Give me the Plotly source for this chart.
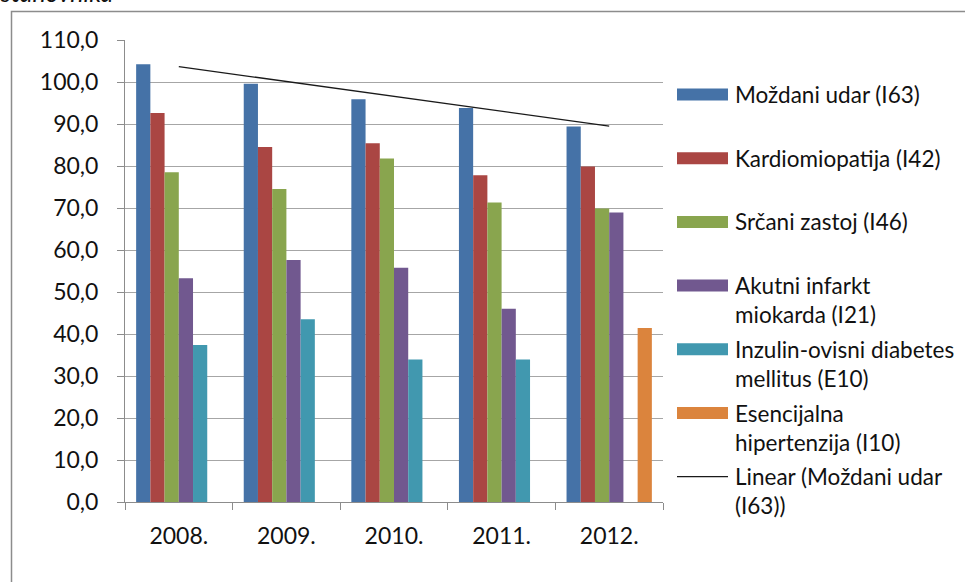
import numpy as np
import plotly.graph_objects as go

# ---- data ----
years = ["2008.", "2009.", "2010.", "2011.", "2012."]
series_names = [
    "Moždani udar (I63)",
    "Kardiomiopatija (I42)",
    "Srčani zastoj (I46)",
    "Akutni infarkt miokarda (I21)",
    "Inzulin-ovisni diabetes mellitus (E10)",
    "Esencijalna hipertenzija (I10)",
]
legend_labels = [
    "Moždani udar (I63)",
    "Kardiomiopatija (I42)",
    "Srčani zastoj (I46)",
    "Akutni infarkt<br>miokarda (I21)",
    "Inzulin-ovisni diabetes<br>mellitus (E10)",
    "Esencijalna<br>hipertenzija (I10)",
    "Linear (Moždani udar<br>(I63))",
]
mozdani_udar = [104.2, 99.6, 95.9, 93.8, 89.4]
kardiomiopatija = [92.6, 84.5, 85.4, 77.8, 79.9]
srcani_zastoj = [78.5, 74.5, 81.8, 71.3, 69.9]
akutni_infarkt = [53.3, 57.6, 55.8, 46.0, 68.9]
inzulin_diabetes = [37.4, 43.5, 33.9, 33.9, None]
esencijalna_hipertenzija = [None, None, None, None, 41.4]
trend_name = "Linear (Moždani udar (I63))"
ytick_vals = [0, 10, 20, 30, 40, 50, 60, 70, 80, 90, 100, 110]
ytick_text = [f"{v:.1f}".replace(".", ",") for v in ytick_vals]

colors = ["#4572A7", "#AA4643", "#89A54E", "#71588F", "#4198AF", "#DB843D"]
all_series = [mozdani_udar, kardiomiopatija, srcani_zastoj, akutni_infarkt,
              inzulin_diabetes, esencijalna_hipertenzija]

# ---- geometry (pixels) ----
W, H = 965, 582
L, R, T, B = 125, 965 - 663, 40, 582 - 502
PW, PH = W - L - R, H - T - B


def px(x):
    return (x - L) / PW


def py(y):
    return (H - B - y) / PH


FONT = "Lato"
TICK_SIZE = 23
LEG_SIZE = 22.5
fig = go.Figure()
for name, vals, col in zip(series_names, all_series, colors):
    fig.add_trace(go.Bar(x=years, y=vals, name=name, marker_color=col,
                         marker_line_width=0, showlegend=False))

# linear trendline of Moždani udar
idx = np.arange(len(years))
slope, intercept = np.polyfit(idx, np.array(mozdani_udar), 1)
trend = list(slope * idx + intercept)
fig.add_trace(go.Scatter(x=years, y=trend, mode="lines", name=trend_name,
                         line=dict(color="#1a1a1a", width=1.3), showlegend=False))

fig.update_layout(
    width=W, height=H,
    margin=dict(l=L, r=R, t=T, b=B, pad=0),
    paper_bgcolor="white", plot_bgcolor="white",
    barmode="group", bargap=0.207, bargroupgap=0,
    font=dict(family=FONT, size=20, color="#111111"),
    showlegend=False,
)
fig.update_yaxes(
    range=[0, 110], tickvals=ytick_vals, ticktext=ytick_text,
    showgrid=True, gridcolor="#A6A6A6", gridwidth=1,
    showline=True, linecolor="#8C8C8C", linewidth=1,
    ticks="outside", ticklen=7, tickcolor="#8C8C8C",
    ticklabelstandoff=14, zeroline=False,
    tickfont=dict(family=FONT, size=TICK_SIZE, color="#111111"),
)
fig.update_xaxes(
    type="category", showgrid=False,
    showline=True, linecolor="#8C8C8C", linewidth=1,
    ticks="outside", ticklen=7, tickcolor="#8C8C8C", tickson="boundaries",
    ticklabelstandoff=13,
    tickfont=dict(family=FONT, size=TICK_SIZE, color="#111111"),
)

shapes = []
annotations = []
# outer frame
shapes.append(dict(type="rect", xref="paper", yref="paper",
                   x0=px(11.5), x1=px(970), y0=py(590), y1=py(11.5),
                   line=dict(color="#8C8C8C", width=1.5), fillcolor="rgba(0,0,0,0)",
                   layer="below"))

# custom legend
sw_x0, sw_x1 = 677, 728
text_x = 733
for k, label in enumerate(legend_labels):
    cy = 94.5 + 63.7 * k
    if k < len(colors):
        shapes.append(dict(type="rect", xref="paper", yref="paper",
                           x0=px(sw_x0), x1=px(sw_x1), y0=py(cy + 6), y1=py(cy - 6),
                           line=dict(width=0), fillcolor=colors[k]))
    else:
        shapes.append(dict(type="line", xref="paper", yref="paper",
                           x0=px(sw_x0), x1=px(sw_x1), y0=py(cy), y1=py(cy),
                           line=dict(color="#1a1a1a", width=1.3)))
    for j, line in enumerate(label.split("<br>")):
        annotations.append(dict(xref="paper", yref="paper", x=px(text_x),
                                y=py(cy + 29 * j), text=line, showarrow=False,
                                xanchor="left", yanchor="middle",
                                font=dict(family=FONT, size=LEG_SIZE, color="#111111")))

# cropped caption at top-left (cut off by the page edge, as in the original)
annotations.append(dict(xref="paper", yref="paper", x=px(-2), y=py(-8),
                        text="<i>stanovnika</i>", showarrow=False,
                        xanchor="left", yanchor="middle",
                        font=dict(family=FONT, size=25, color="#111111")))

fig.update_layout(shapes=shapes, annotations=annotations)

fig.write_html("out.html", config={"displayModeBar": False},
               post_script="document.body.style.margin='0';")
